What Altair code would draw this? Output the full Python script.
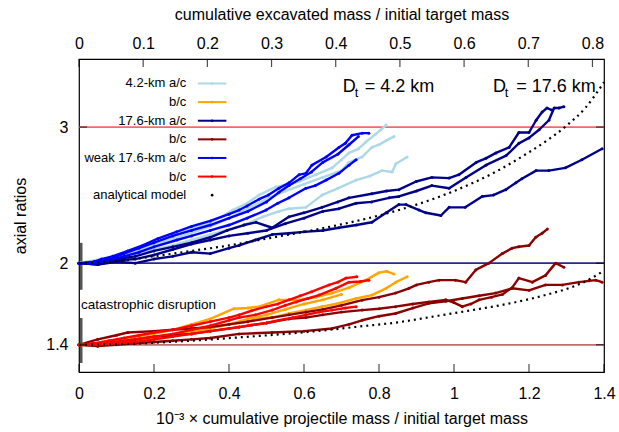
import altair as alt
import pandas as pd

W, H = 525, 313
FONT = "Liberation Sans"

bottom_ticks = [0, 0.2, 0.4, 0.6, 0.8, 1.0, 1.2, 1.4]
top_ticks = [0, 0.1, 0.2, 0.3, 0.4, 0.5, 0.6, 0.7, 0.8]
y_ticks = [1.4, 2, 3]

group_keys = ["s42ac", "s42bc", "s176ac", "s176bc", "w176ac", "w176bc"]
group_labels = ["4.2-km a/c", "b/c", "17.6-km a/c", "b/c", "weak 17.6-km a/c", "b/c"]
group_colors = ["#add8e6", "#ffa500", "#00008b", "#8b0000", "#0000ff", "#ff0000"]

# ---- 4.2-km a/c (light blue)
lb1_x = [0, 0.03, 0.06, 0.1, 0.14, 0.18, 0.22, 0.26, 0.3, 0.34, 0.38, 0.41, 0.448, 0.48, 0.525, 0.56, 0.587, 0.632, 0.675, 0.70, 0.72, 0.745, 0.765, 0.792, 0.805, 0.819]
lb1_y = [2.0, 2.01, 2.03, 2.06, 2.09, 2.12, 2.16, 2.21, 2.25, 2.29, 2.34, 2.39, 2.44, 2.50, 2.56, 2.58, 2.60, 2.65, 2.70, 2.76, 2.81, 2.84, 2.89, 2.95, 2.98, 3.015]
lb2_x = [0, 0.04, 0.08, 0.12, 0.16, 0.2, 0.25, 0.3, 0.35, 0.4, 0.45, 0.5, 0.55, 0.6, 0.65, 0.7, 0.72, 0.755, 0.781, 0.8, 0.819, 0.84]
lb2_y = [2.0, 2.02, 2.04, 2.07, 2.1, 2.13, 2.18, 2.22, 2.27, 2.33, 2.40, 2.47, 2.53, 2.58, 2.63, 2.68, 2.74, 2.78, 2.85, 2.87, 2.90, 2.93]
lb3_x = [0, 0.05, 0.1, 0.15, 0.2, 0.25, 0.3, 0.35, 0.376, 0.44, 0.49, 0.533, 0.56, 0.605, 0.648, 0.69, 0.739, 0.775, 0.808, 0.835, 0.845, 0.875]
lb3_y = [2.0, 2.02, 2.04, 2.07, 2.1, 2.13, 2.17, 2.21, 2.23, 2.28, 2.34, 2.38, 2.40, 2.41, 2.50, 2.55, 2.61, 2.64, 2.68, 2.67, 2.73, 2.78]

# ---- weak 17.6-km a/c (blue)
bl1_x = [0, 0.03, 0.06, 0.09, 0.13, 0.17, 0.21, 0.26, 0.3, 0.35, 0.4, 0.427, 0.448, 0.48, 0.505, 0.533, 0.56, 0.587, 0.605, 0.621, 0.659, 0.693, 0.71, 0.728, 0.755, 0.773]
bl1_y = [2.0, 2.0, 2.03, 2.05, 2.09, 2.13, 2.18, 2.23, 2.27, 2.31, 2.36, 2.39, 2.42, 2.47, 2.50, 2.55, 2.59, 2.65, 2.66, 2.72, 2.78, 2.85, 2.88, 2.94, 2.955, 2.955]
bl2_x = [0, 0.04, 0.08, 0.12, 0.16, 0.2, 0.25, 0.3, 0.35, 0.4, 0.45, 0.5, 0.533, 0.56, 0.59, 0.62, 0.65, 0.69, 0.72, 0.745]
bl2_y = [2.0, 2.01, 2.03, 2.07, 2.11, 2.15, 2.2, 2.24, 2.28, 2.33, 2.38, 2.45, 2.52, 2.57, 2.62, 2.67, 2.74, 2.80, 2.87, 2.93]
bl3_x = [0, 0.04, 0.08, 0.12, 0.16, 0.2, 0.261, 0.3, 0.35, 0.4, 0.448, 0.499, 0.53, 0.56, 0.605, 0.63, 0.659, 0.693, 0.72, 0.739]
bl3_y = [2.0, 2.0, 2.02, 2.05, 2.08, 2.12, 2.17, 2.2, 2.24, 2.28, 2.33, 2.39, 2.44, 2.48, 2.55, 2.57, 2.61, 2.66, 2.72, 2.76]

# ---- 17.6-km a/c (dark blue)
nv1_x = [0, 0.05, 0.1, 0.15, 0.2, 0.25, 0.3, 0.35, 0.395, 0.44, 0.472, 0.515, 0.56, 0.6, 0.648, 0.69, 0.72, 0.781, 0.82, 0.853, 0.899, 0.941, 0.987, 1.013, 1.059, 1.085, 1.112, 1.147, 1.173, 1.2, 1.219, 1.235, 1.248, 1.261]
nv1_y = [2.0, 2.0, 2.03, 2.05, 2.09, 2.12, 2.15, 2.19, 2.24, 2.28, 2.30, 2.26, 2.34, 2.37, 2.41, 2.45, 2.48, 2.51, 2.53, 2.54, 2.60, 2.63, 2.625, 2.65, 2.74, 2.77, 2.81, 2.85, 2.96, 2.96, 3.05, 3.11, 3.14, 3.125]
nv2_x = [0, 0.05, 0.1, 0.15, 0.2, 0.25, 0.3, 0.35, 0.4, 0.45, 0.5, 0.55, 0.6, 0.65, 0.693, 0.739, 0.78, 0.827, 0.853, 0.9, 0.941, 0.987, 1.032, 1.085, 1.139, 1.173, 1.2, 1.227, 1.253, 1.267, 1.28, 1.293]
nv2_y = [2.0, 1.99, 2.02, 2.03, 2.06, 2.1, 2.14, 2.17, 2.2, 2.22, 2.24, 2.29, 2.33, 2.38, 2.40, 2.44, 2.45, 2.48, 2.49, 2.53, 2.57, 2.55, 2.63, 2.72, 2.79, 2.88, 2.92, 2.98, 3.05, 3.14, 3.14, 3.15]
nv3_x = [0, 0.05, 0.1, 0.15, 0.2, 0.25, 0.3, 0.35, 0.4, 0.427, 0.47, 0.515, 0.56, 0.6, 0.65, 0.693, 0.74, 0.781, 0.819, 0.853, 0.872, 0.907, 0.925, 0.965, 0.987, 1.03, 1.075, 1.105, 1.138, 1.165, 1.181, 1.219, 1.253, 1.297, 1.341, 1.395]
nv3_y = [2.0, 1.99, 2.01, 2.0, 2.03, 2.05, 2.08, 2.07, 2.11, 2.13, 2.17, 2.21, 2.22, 2.23, 2.24, 2.26, 2.28, 2.30, 2.37, 2.43, 2.43, 2.39, 2.37, 2.35, 2.41, 2.41, 2.49, 2.50, 2.54, 2.59, 2.62, 2.68, 2.68, 2.70, 2.76, 2.84]

# ---- 4.2-km b/c (orange)
or1_x = [0, 0.04, 0.08, 0.12, 0.16, 0.2, 0.25, 0.3, 0.35, 0.413, 0.45, 0.48, 0.533, 0.587, 0.632, 0.675, 0.72, 0.765, 0.8, 0.821, 0.84]
or1_y = [1.4, 1.41, 1.43, 1.44, 1.46, 1.48, 1.51, 1.55, 1.59, 1.665, 1.67, 1.68, 1.73, 1.73, 1.75, 1.78, 1.82, 1.875, 1.93, 1.94, 1.92]
or2_x = [0, 0.05, 0.1, 0.15, 0.2, 0.25, 0.3, 0.35, 0.4, 0.44, 0.472, 0.515, 0.56, 0.605, 0.648, 0.693, 0.739, 0.781, 0.819, 0.845, 0.875]
or2_y = [1.4, 1.40, 1.41, 1.43, 1.45, 1.47, 1.50, 1.53, 1.55, 1.565, 1.595, 1.60, 1.63, 1.655, 1.68, 1.705, 1.74, 1.765, 1.815, 1.86, 1.90]
or3_x = [0, 0.05, 0.1, 0.15, 0.2, 0.25, 0.3, 0.35, 0.4, 0.45, 0.5, 0.55, 0.6, 0.65, 0.7]
or3_y = [1.4, 1.39, 1.41, 1.42, 1.44, 1.46, 1.49, 1.52, 1.55, 1.59, 1.62, 1.66, 1.70, 1.73, 1.77]

# ---- weak 17.6-km b/c (red)
rd1_x = [0, 0.04, 0.08, 0.12, 0.16, 0.2, 0.25, 0.3, 0.35, 0.4, 0.427, 0.46, 0.499, 0.53, 0.56, 0.59, 0.621, 0.667, 0.69, 0.712, 0.741]
rd1_y = [1.4, 1.41, 1.43, 1.45, 1.47, 1.49, 1.51, 1.54, 1.57, 1.60, 1.62, 1.65, 1.68, 1.70, 1.73, 1.76, 1.79, 1.84, 1.86, 1.89, 1.90]
rd2_x = [0, 0.05, 0.1, 0.15, 0.2, 0.25, 0.3, 0.35, 0.4, 0.427, 0.47, 0.515, 0.55, 0.579, 0.61, 0.64, 0.685, 0.72, 0.75, 0.773]
rd2_y = [1.4, 1.41, 1.42, 1.44, 1.46, 1.48, 1.51, 1.54, 1.58, 1.60, 1.62, 1.655, 1.69, 1.715, 1.74, 1.765, 1.815, 1.86, 1.865, 1.875]
rd3_x = [0, 0.05, 0.1, 0.15, 0.2, 0.25, 0.3, 0.35, 0.4, 0.427, 0.461, 0.5, 0.533, 0.57, 0.605, 0.64, 0.675, 0.71, 0.739]
rd3_y = [1.4, 1.40, 1.41, 1.42, 1.44, 1.46, 1.48, 1.50, 1.52, 1.53, 1.545, 1.56, 1.58, 1.60, 1.62, 1.64, 1.655, 1.67, 1.68]

# ---- 17.6-km b/c (dark red)
dr1_x = [0, 0.05, 0.1, 0.13, 0.2, 0.25, 0.3, 0.35, 0.4, 0.45, 0.515, 0.56, 0.605, 0.65, 0.7, 0.755, 0.8, 0.844, 0.88, 0.9, 0.933, 0.96, 1.004, 1.031, 1.058, 1.093, 1.129, 1.155, 1.173, 1.2, 1.218, 1.235, 1.249]
dr1_y = [1.4, 1.44, 1.47, 1.49, 1.50, 1.51, 1.52, 1.53, 1.55, 1.57, 1.60, 1.62, 1.64, 1.66, 1.69, 1.728, 1.75, 1.78, 1.815, 1.84, 1.86, 1.875, 1.875, 1.86, 1.95, 2.0, 2.07, 2.11, 2.12, 2.13, 2.19, 2.22, 2.25]
dr2_x = [0, 0.05, 0.1, 0.15, 0.2, 0.25, 0.3, 0.35, 0.427, 0.5, 0.56, 0.605, 0.65, 0.7, 0.755, 0.8, 0.844, 0.89, 0.933, 0.978, 1.0, 1.022, 1.045, 1.067, 1.1, 1.129, 1.155, 1.173, 1.209, 1.244, 1.271, 1.293]
dr2_y = [1.4, 1.41, 1.42, 1.44, 1.46, 1.47, 1.48, 1.50, 1.53, 1.56, 1.59, 1.60, 1.62, 1.64, 1.655, 1.665, 1.68, 1.70, 1.715, 1.73, 1.71, 1.68, 1.70, 1.73, 1.75, 1.77, 1.82, 1.89, 1.86, 1.91, 2.0, 1.97]
dr3_x = [0, 0.05, 0.1, 0.15, 0.2, 0.25, 0.3, 0.35, 0.427, 0.515, 0.6, 0.675, 0.72, 0.755, 0.8, 0.844, 0.89, 0.933, 0.978, 1.022, 1.067, 1.111, 1.155, 1.2, 1.244, 1.289, 1.333, 1.36, 1.378, 1.395]
dr3_y = [1.4, 1.39, 1.40, 1.41, 1.42, 1.43, 1.44, 1.45, 1.48, 1.49, 1.50, 1.52, 1.55, 1.58, 1.61, 1.63, 1.67, 1.705, 1.72, 1.74, 1.76, 1.78, 1.815, 1.80, 1.84, 1.84, 1.86, 1.87, 1.875, 1.86]

# ---- analytical model
model_ac_x = [0, 0.1, 0.2, 0.3, 0.4, 0.5, 0.6, 0.7, 0.8, 0.9, 1.0, 1.1, 1.2, 1.25, 1.3, 1.35, 1.4]
model_ac_y = [2.0, 2.015, 2.05, 2.09, 2.13, 2.18, 2.23, 2.285, 2.35, 2.43, 2.53, 2.655, 2.815, 2.905, 3.01, 3.14, 3.33]
model_bc_x = [0, 0.1, 0.2, 0.3, 0.43, 0.55, 0.668, 0.75, 0.85, 0.95, 1.05, 1.113, 1.2, 1.25, 1.3, 1.35, 1.4]
model_bc_y = [1.4, 1.405, 1.415, 1.43, 1.455, 1.48, 1.51, 1.535, 1.565, 1.61, 1.655, 1.685, 1.735, 1.77, 1.81, 1.865, 1.945]

# reference levels and disruption bars
ref_levels = [3, 2, 1.4]
ref_colors = ["#f26a6a", "#2a2a8c", "#b87070"]
bar_x = [0.006, 0.006]
bar_lo = [1.804, 1.266]
bar_hi = [2.149, 1.597]

runs = [
    (0, lb1_x, lb1_y), (0, lb2_x, lb2_y), (0, lb3_x, lb3_y),
    (1, or1_x, or1_y), (1, or2_x, or2_y), (1, or3_x, or3_y),
    (2, nv1_x, nv1_y), (2, nv2_x, nv2_y), (2, nv3_x, nv3_y),
    (3, dr1_x, dr1_y), (3, dr2_x, dr2_y), (3, dr3_x, dr3_y),
    (4, bl1_x, bl1_y), (4, bl2_x, bl2_y), (4, bl3_x, bl3_y),
    (5, rd1_x, rd1_y), (5, rd2_x, rd2_y), (5, rd3_x, rd3_y),
]
rows = []
for k, (g, xs, ys) in enumerate(runs):
    for i, (a, b) in enumerate(zip(xs, ys)):
        rows.append({"run": k, "g": g, "x": a, "y": b, "i": i})
df = pd.DataFrame(rows)

mrows = []
for name, xs, ys in [("ac", model_ac_x, model_ac_y), ("bc", model_bc_x, model_bc_y)]:
    for a, b in zip(xs, ys):
        mrows.append({"m": name, "x": a, "y": b})
mdf = pd.DataFrame(mrows)

xscale = alt.Scale(domain=[0, 1.4], nice=False, zero=False)
yscale = alt.Scale(domain=[1.2, 3.5], nice=False, zero=False)
xaxis = alt.Axis(values=bottom_ticks, format="~g", labelFlush=False, labelOverlap=False,
                 title="10⁻³ × cumulative projectile mass / initial target mass",
                 labelPadding=13, titlePadding=9)
yaxis = alt.Axis(values=y_ticks, labelExpr="format(datum.value, '.2~f')", labelOverlap=False,
                 title="axial ratios", labelPadding=11, titlePadding=17)


def X(f):
    return alt.X(f, type="quantitative", scale=xscale, axis=xaxis)


def Y(f):
    return alt.Y(f, type="quantitative", scale=yscale, axis=yaxis)


layers = []

ref_df = pd.DataFrame({"y": ref_levels, "c": ref_colors})
layers.append(alt.Chart(ref_df).mark_rule(strokeWidth=1.8).encode(
    y=Y("y"), color=alt.Color("c:N", scale=None)))

bar_df = pd.DataFrame({"x": bar_x, "lo": bar_lo, "hi": bar_hi})
layers.append(alt.Chart(bar_df).mark_rule(strokeWidth=2.5, color="#555555").encode(
    x=X("x"), y=Y("lo"), y2="hi"))

for g in [0, 1, 2, 3, 4, 5]:
    c = group_colors[g]
    layers.append(alt.Chart(df[df.g == g]).mark_line(
        color=c, strokeWidth=2.4, strokeJoin="round",
        point=alt.OverlayMarkDef(filled=True, size=9, color=c)).encode(
        x=X("x"), y=Y("y"), detail="run:N", order="i:Q"))

layers.append(alt.Chart(mdf).mark_line(color="black", strokeWidth=2.2, strokeDash=[2, 4],
                                       interpolate="monotone").encode(
    x=X("x"), y=Y("y"), detail="m:N"))

# legend (positions in data units)
leg_labels = group_labels + ["analytical model"]
leg_colors = group_colors + ["black"]
leg_df = pd.DataFrame({
    "label": leg_labels,
    "col": leg_colors,
    "ly": [3.32 - 0.1368 * i for i in range(len(leg_labels))],
    "tx": [0.286] * len(leg_labels),
    "lx1": [0.317] * len(leg_labels),
    "lx2": [0.393] * len(leg_labels),
    "px": [0.355] * len(leg_labels),
})
layers.append(alt.Chart(leg_df).mark_text(align="right", baseline="middle", font=FONT,
                                          fontSize=13, color="black").encode(
    x=X("tx"), y=Y("ly"), text="label:N"))
layers.append(alt.Chart(leg_df.iloc[:6]).mark_rule(strokeWidth=2).encode(
    x=X("lx1"), x2="lx2", y=Y("ly"), color=alt.Color("col:N", scale=None)))
layers.append(alt.Chart(leg_df).mark_point(filled=True, size=7, shape="circle", opacity=1).encode(
    x=X("px"), y=Y("ly"), color=alt.Color("col:N", scale=None)))

# annotations
ann_df = pd.DataFrame({
    "t": ["D", "t", "= 4.2 km", "D", "t", "= 17.6 km"],
    "x": [0.703, 0.735, 0.762, 1.104, 1.135, 1.166],
    "y": [3.261, 3.224, 3.261, 3.261, 3.224, 3.261],
    "s": [18, 13, 18, 18, 13, 18],
})
layers.append(alt.Chart(ann_df).mark_text(align="left", baseline="alphabetic", font=FONT,
                                          color="black").encode(
    x=X("x"), y=Y("y"), text="t:N", size=alt.Size("s:Q", scale=None)))

cat_df = pd.DataFrame({"t": ["catastrophic disruption"], "x": [0.005], "y": [1.661]})
layers.append(alt.Chart(cat_df).mark_text(align="left", baseline="alphabetic", font=FONT,
                                          fontSize=13.5, color="black").encode(
    x=X("x"), y=Y("y"), text="t:N"))

# inside tick marks
yt_df = pd.DataFrame({"y": y_ticks})
layers.append(alt.Chart(yt_df).mark_tick(orient="horizontal", size=8, thickness=1.2,
                                         color="black").encode(y=Y("y"), x=alt.value(4)))
layers.append(alt.Chart(yt_df).mark_tick(orient="horizontal", size=8, thickness=1.2,
                                         color="black").encode(y=Y("y"), x=alt.value(W - 4)))
bt_df = pd.DataFrame({"x": bottom_ticks})
layers.append(alt.Chart(bt_df).mark_tick(orient="vertical", size=8, thickness=1.2,
                                         color="black").encode(x=X("x"), y=alt.value(H - 4)))

main = alt.layer(*layers)

tt_df = pd.DataFrame({"t": top_ticks})
top = alt.Chart(tt_df).mark_tick(orient="vertical", size=8, thickness=1.2, color="black").encode(
    x=alt.X("t:Q", scale=alt.Scale(domain=[0, 0.818], nice=False, zero=False),
            axis=alt.Axis(orient="top", values=top_ticks, format="~g", labelFlush=False,
                          labelOverlap=False,
                          title="cumulative excavated mass / initial target mass",
                          labelPadding=8, titlePadding=13)),
    y=alt.value(4))

chart = alt.layer(main, top).resolve_scale(x="independent").properties(
    width=W, height=H,
    autosize=alt.AutoSizeParams(type="none"),
    padding={"left": 79, "top": 59, "right": 15, "bottom": 60},
    background="white",
).configure_view(stroke="black", strokeWidth=1.2).configure_axis(
    ticks=False, tickSize=0, domain=False, grid=False,
    labelFont=FONT, labelFontSize=16, labelColor="black",
    titleFont=FONT, titleFontSize=16, titleFontWeight="normal", titleColor="black",
)

chart.save("out.html", embed_options={"renderer": "svg", "actions": False})
